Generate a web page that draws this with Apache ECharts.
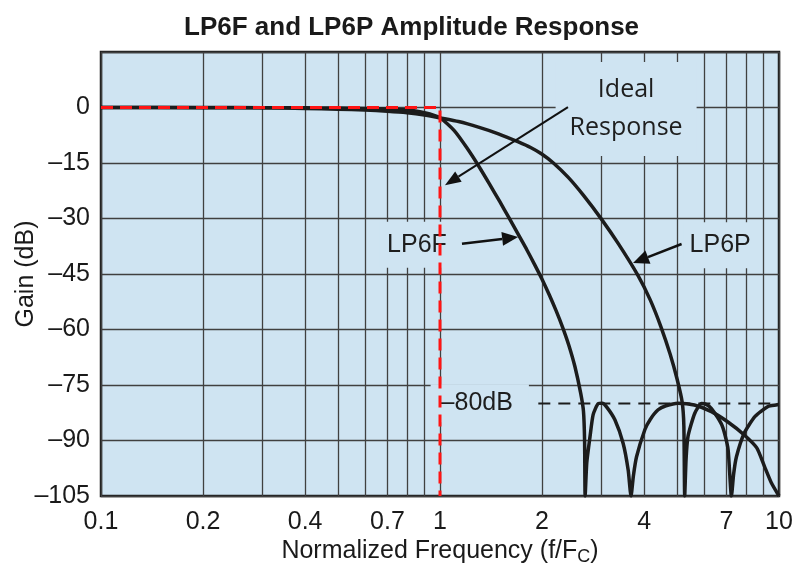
<!DOCTYPE html>
<html>
<head>
<meta charset="utf-8">
<script src="https://cdn.jsdelivr.net/npm/echarts@6/dist/echarts.min.js"></script>
<style>
    html, body { margin: 0; padding: 0; background: #fff; }
    #ChartDIV { width: 793px; height: 568px; }
</style>
</head>
<body>
<div id="ChartDIV"></div>
<script>
// values (f/Fc, gain in dB)
var freqLP6F = [0.1, 0.2, 0.3, 0.4, 0.5, 0.6, 0.7, 0.8, 0.9, 1.0,
    1.1, 1.2, 1.3, 1.4, 1.5, 1.6, 1.7, 1.8, 1.9, 2.0,
    2.1, 2.2, 2.3, 2.4, 2.5, 2.6, 2.65, 2.67, 2.68,
    2.71, 2.77, 2.83, 2.93, 3.01, 3.10, 3.28, 3.47, 3.59, 3.66,
    3.72, 3.80, 4.02, 4.17, 4.40, 4.64, 5.04, 5.63, 6.32, 7.07, 7.9, 8.6, 9.06, 9.5, 10];
var gainLP6F = [0, 0, -0.05, -0.1, -0.15, -0.25, -0.4, -0.7, -1.4, -2.8,
    -6.2, -10.9, -15.8, -20.7, -25.4, -29.9, -34.2, -38.3, -42.4, -46.4,
    -50.6, -54.9, -59.4, -64.3, -70.0, -77.2, -82.1, -90, -105,
    -96, -89, -83, -80, -79.9, -80.9, -84.4, -90.8, -98, -105,
    -99.5, -94.4, -87.1, -84.3, -81.7, -80.6, -79.9, -80.4, -82.2, -85, -88.5, -92, -97, -101.5, -105];

var freqLP6P = [0.1, 0.2, 0.3, 0.4, 0.5, 0.6, 0.7, 0.8, 0.9, 1.0,
    1.134, 1.298, 1.487, 1.703, 1.85, 1.991, 2.16, 2.39, 2.647, 2.99, 3.357,
    3.843, 4.17, 4.49, 4.775, 5.008, 5.18, 5.24, 5.27,
    5.32, 5.39, 5.64, 5.91, 6.12, 6.32, 6.76, 6.93, 7.08, 7.24,
    7.35, 7.49, 7.9, 8.5, 9.28, 9.8, 10];
var gainLP6P = [0, -0.05, -0.1, -0.25, -0.45, -0.7, -1.0, -1.4, -2.0, -2.8,
    -3.8, -5.3, -7.1, -9.3, -10.8, -12.5, -15.0, -18.9, -23.7, -30.1, -36.8,
    -45.5, -52.0, -59.4, -66.7, -73.5, -79.6, -86, -105,
    -95, -88.9, -82.7, -80, -80.3, -81.4, -85.5, -88.5, -92.6, -105,
    -99, -94.4, -88, -83.5, -80.8, -80.4, -80.3];

var freqIdeal = [0.1, 1, 1];
var gainIdeal = [0, 0, -105];

var freqLimit = [1.95, 10];
var gainLimit = [-80, -80];

var xGridValues = [0.1, 0.2, 0.3, 0.4, 0.5, 0.6, 0.7, 0.8, 0.9, 1, 2, 3, 4, 5, 6, 7, 8, 9, 10];
var xLabelValues = [0.1, 0.2, 0.4, 0.7, 1, 2, 4, 7, 10];

// annotation anchors in data units [f, dB]
var posLP6F = [0.855, -37.1];
var posLP6P = [6.75, -37.2];
var posLimit = [1.31, -79.9];
var posIdeal = [3.54, -0.4];
var arrowIdeal = [[2.385, 0.1], [1.034, -21]];
var arrowLP6F = [[1.161, -36.8], [1.70, -35.0]];
var arrowLP6P = [[5.16, -36.9], [3.71, -42.0]];

function pairs(xs, ys) {
    var res = [];
    for (var i = 0; i < xs.length; i++) {
        res.push([xs[i], ys[i]]);
    }
    return res;
}

var FONT = "'Liberation Sans', Arial, sans-serif";
var PLOT_BG = '#cfe4f2';
var GRID_COLOR = '#404040';

var myChart = echarts.init(document.getElementById('ChartDIV'));

var option = {
    animation: false,
    backgroundColor: '#fff',
    title: {
        text: 'LP6F and LP6P Amplitude Response',
        left: 179,
        top: 10,
        textStyle: { fontFamily: FONT, fontSize: 26, fontWeight: 'bold', color: '#1a1a1a' }
    },
    grid: {
        left: 101, right: 14, top: 52, bottom: 72,
        outerBoundsMode: 'none',
        containLabel: false,
        show: true,
        backgroundColor: PLOT_BG,
        borderColor: '#1e1e1e',
        borderWidth: 2.5
    },
    xAxis: {
        type: 'log',
        logBase: 10,
        min: 0.1,
        max: 10,
        name: 'Normalized Frequency (f/F{sub|C})',
        nameLocation: 'middle',
        nameGap: 40,
        nameMoveOverlap: false,
        nameTextStyle: {
            fontFamily: FONT, fontSize: 25, color: '#1a1a1a',
            rich: { sub: { fontFamily: FONT, fontSize: 18, color: '#1a1a1a', padding: [12, 0, 0, 0] } }
        },
        axisLine: { show: false },
        axisTick: { show: false, customValues: xGridValues },
        splitLine: { show: true, customValues: xGridValues, lineStyle: { color: GRID_COLOR, width: 1.3 } },
        axisLabel: {
            customValues: xLabelValues,
            margin: 14,
            fontFamily: FONT, fontSize: 25, color: '#1a1a1a',
            formatter: function (v) { return String(+Number(v).toPrecision(3)); }
        }
    },
    yAxis: {
        type: 'value',
        min: -105,
        max: 15,
        interval: 15,
        name: 'Gain (dB)',
        nameLocation: 'middle',
        nameGap: 62,
        nameMoveOverlap: false,
        nameTextStyle: { fontFamily: FONT, fontSize: 25, color: '#1a1a1a' },
        axisLine: { show: false },
        axisTick: { show: false },
        splitLine: { show: true, lineStyle: { color: GRID_COLOR, width: 1.3 } },
        axisLabel: {
            margin: 11,
            fontFamily: FONT, fontSize: 25, color: '#1a1a1a',
            formatter: function (v) {
                if (v > 0) return '';
                return v < 0 ? '\u2013' + (-v) : String(v);
            }
        }
    },
    series: [
        {
            name: 'LP6F', type: 'line', showSymbol: false, smooth: 0.2,
            lineStyle: { color: '#1c1c1c', width: 3.5 },
            data: pairs(freqLP6F, gainLP6F), z: 3
        },
        {
            name: 'LP6P', type: 'line', showSymbol: false, smooth: 0.2,
            lineStyle: { color: '#1c1c1c', width: 3.5 },
            data: pairs(freqLP6P, gainLP6P), z: 3
        },
        {
            name: '-80dB', type: 'line', showSymbol: false,
            lineStyle: { color: '#1c1c1c', width: 2, type: [12, 8] },
            data: pairs(freqLimit, gainLimit), z: 3
        },
        {
            name: 'Ideal', type: 'line', showSymbol: false,
            lineStyle: { color: '#ff1414', width: 3, type: [12, 7] },
            data: pairs(freqIdeal, gainIdeal), z: 4
        }
    ]
};

myChart.setOption(option);

function px(p) {
    return myChart.convertToPixel({ gridIndex: 0 }, p);
}

function arrow(pts, width, headLen, headW) {
    var a = px(pts[0]), b = px(pts[1]);
    var dx = b[0] - a[0], dy = b[1] - a[1];
    var len = Math.sqrt(dx * dx + dy * dy);
    var ux = dx / len, uy = dy / len;
    var bx = b[0] - ux * headLen, by = b[1] - uy * headLen;
    return [
        { type: 'line', z: 6, shape: { x1: a[0], y1: a[1], x2: bx, y2: by }, style: { stroke: '#111', lineWidth: width } },
        { type: 'polygon', z: 6, shape: { points: [[b[0], b[1]], [bx - uy * headW, by + ux * headW], [bx + uy * headW, by - ux * headW]] }, style: { fill: '#111' } }
    ];
}

function label(pos, text, font, pad, lineHeight) {
    var p = px(pos);
    return {
        type: 'text', z: 1, x: p[0], y: p[1],
        style: {
            text: text, font: font, fill: '#1e1e1e',
            align: 'center', verticalAlign: 'middle',
            lineHeight: lineHeight,
            backgroundColor: PLOT_BG, padding: pad
        }
    };
}

var graphics = [];
graphics.push(label(posLP6F, 'LP6F', '25px ' + FONT, [10, 8, 10, 8], 26));
graphics.push(label(posLP6P, 'LP6P', '25px ' + FONT, [10, 8, 10, 6], 26));
graphics.push(label(posLimit, '\u201380dB', '25px ' + FONT, [6, 16, 6, 10], 26));
graphics.push(label(posIdeal, 'Ideal\nResponse', "25px 'Open Sans', sans-serif", [9, 14, 9, 14], 38));
graphics = graphics.concat(arrow(arrowIdeal, 2, 16, 6));
graphics = graphics.concat(arrow(arrowLP6F, 2.5, 16, 7));
graphics = graphics.concat(arrow(arrowLP6P, 2.5, 16, 7));

myChart.setOption({ graphic: graphics });

//-- 圖表自適應
window.addEventListener('resize', function () {
    myChart.resize();
});
</script>
</body>
</html>
